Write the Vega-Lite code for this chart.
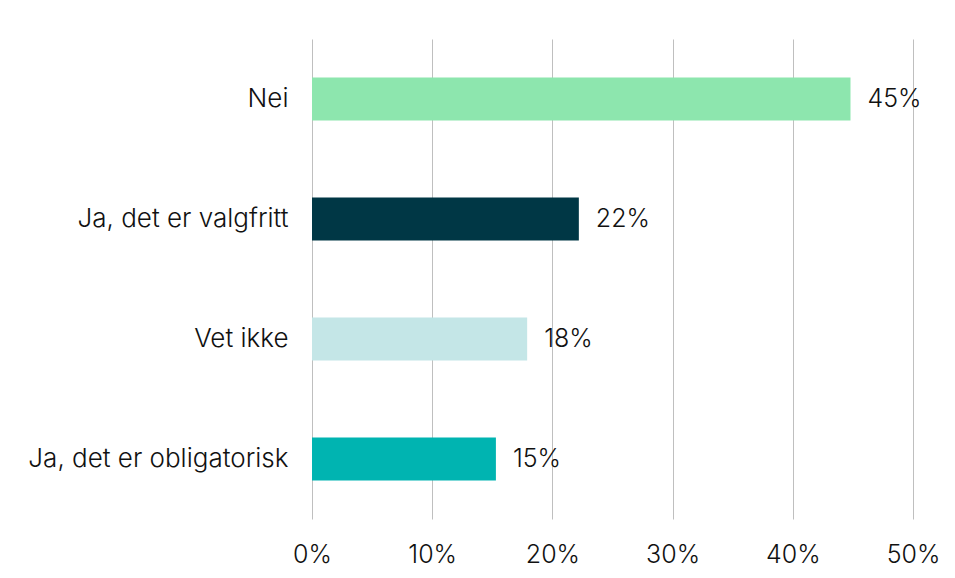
{
  "$schema": "https://vega.github.io/schema/vega-lite/v6.json",
  "autosize": "none",
  "width": 601,
  "height": 480,
  "padding": {"left": 312, "top": 39, "right": 42, "bottom": 59},
  "background": "white",
  "config": {"view": {"stroke": null}, "font": "Inter"},
  "data": {
    "values": [
      {"svar": "Nei", "andel": 0.448, "farge": "#8DE6AE"},
      {"svar": "Ja, det er valgfritt", "andel": 0.222, "farge": "#003745"},
      {"svar": "Vet ikke", "andel": 0.179, "farge": "#C4E6E7"},
      {"svar": "Ja, det er obligatorisk", "andel": 0.153, "farge": "#00B4B1"}
    ]
  },
  "encoding": {
    "y": {
      "field": "svar",
      "type": "nominal",
      "sort": null,
      "scale": {"paddingInner": 0.64, "paddingOuter": 0.32},
      "axis": {
        "title": null,
        "domain": false,
        "ticks": false,
        "labelFontSize": 26,
        "labelFontWeight": 300,
        "labelColor": "#111111",
        "labelPadding": 24,
        "labelLimit": 400,
        "labelFont": "Inter"
      }
    },
    "x": {
      "field": "andel",
      "type": "quantitative",
      "scale": {"domain": [0, 0.5]},
      "axis": {
        "title": null,
        "format": ".0%",
        "values": [0, 0.1, 0.2, 0.3, 0.4, 0.5],
        "domain": false,
        "ticks": false,
        "grid": true,
        "gridColor": "#BFBFBF",
        "gridWidth": 1,
        "labelFontSize": 25,
        "labelFontWeight": 300,
        "labelColor": "#111111",
        "labelPadding": 23,
        "labelOverlap": false,
        "labelFlush": false,
        "labelBound": false,
        "labelFont": "Inter"
      }
    }
  },
  "layer": [
    {
      "mark": {"type": "bar"},
      "encoding": {
        "color": {"field": "farge", "type": "nominal", "scale": null}
      }
    },
    {
      "mark": {"type": "text", "align": "left", "baseline": "middle", "dx": 17, "fontSize": 25, "fontWeight": 300, "color": "#111111", "font": "Inter"},
      "encoding": {
        "text": {"field": "andel", "type": "quantitative", "format": ".0%"}
      }
    }
  ]
}
